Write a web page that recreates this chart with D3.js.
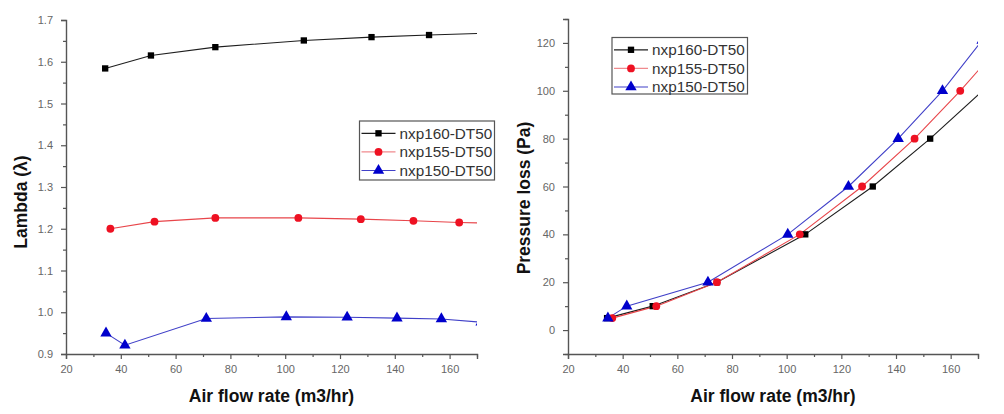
<!DOCTYPE html>
<html><head><meta charset="utf-8">
<script src="https://cdn.jsdelivr.net/npm/d3@7"></script>
<style>
html,body{margin:0;padding:0;background:#fff;}
svg{display:block;}
</style></head>
<body>
<svg id="chart" width="1004" height="414"></svg>
<script>
// ---------- data ----------
const seriesNames = ["nxp160-DT50", "nxp155-DT50", "nxp150-DT50"];
const flow160 = [34.3, 51.0, 74.5, 106.8, 131.5, 152.5, 171.7];
const flow155 = [36.2, 52.3, 74.5, 104.8, 127.6, 146.8, 163.5, 179];
const flow150 = [34.6, 41.5, 71.2, 100.4, 122.6, 140.8, 157.0, 171.5];
const lambda160 = [1.584, 1.615, 1.635, 1.651, 1.659, 1.664, 1.668];
const lambda155 = [1.200, 1.217, 1.226, 1.226, 1.223, 1.219, 1.215, 1.213];
const lambda150 = [0.950, 0.921, 0.985, 0.989, 0.988, 0.986, 0.984, 0.976];
const pressure160 = [5, 10, 20, 40, 60, 80, 100];
const pressure155 = [5, 10, 20, 40, 60, 80, 100, 120];
const pressure150 = [5, 10, 20, 40, 60, 80, 100, 121];
const xTicks = [20, 40, 60, 80, 100, 120, 140, 160];
const xMinorTicks = [30, 50, 70, 90, 110, 130, 150, 170];
const lambdaTicks = [0.9, 1.0, 1.1, 1.2, 1.3, 1.4, 1.5, 1.6, 1.7];
const lambdaMinor = [0.95, 1.05, 1.15, 1.25, 1.35, 1.45, 1.55, 1.65];
const pressureTicks = [0, 20, 40, 60, 80, 100, 120];
const pressureMinor = [-10, 10, 30, 50, 70, 90, 110, 130];

const lineColors = ["#1e1e1e", "#e8454a", "#4040c8"];
const legendLineColors = ["#1e1e1e", "#f08a8e", "#4040c8"];
const markerColors = ["#000000", "#ee1122", "#0000cc"];
const markerShapes = [d3.symbolSquare, d3.symbolCircle, d3.symbolTriangle];
const markerSizes = [40, 48, 56];

const svg = d3.select("#chart");
const axisColor = "#555";
const tickTextColor = "#666";

function drawPanel(cfg) {
  const g = svg.append("g");
  const x = d3.scaleLinear().domain([20, 170]).range([cfg.left, cfg.right]);
  const y = d3.scaleLinear().domain(cfg.yDomain).range([cfg.bottom, cfg.top]);

  const defs = svg.append("defs");
  const clipId = "clip" + cfg.id;
  defs.append("clipPath").attr("id", clipId)
    .append("rect").attr("x", cfg.left).attr("y", cfg.top - 5)
    .attr("width", cfg.right - cfg.left).attr("height", cfg.bottom - cfg.top + 5);

  // axes
  const xAxis = d3.axisBottom(x).tickValues(xTicks).tickSize(5).tickPadding(6).tickFormat(d3.format("d"));
  const xMinor = d3.axisBottom(x).tickValues(xMinorTicks).tickSize(3).tickFormat("");
  const yAxis = d3.axisLeft(y).tickValues(cfg.yTicks).tickSize(5).tickPadding(8).tickFormat(cfg.yFormat);
  const yMinor = d3.axisLeft(y).tickValues(cfg.yMinor).tickSize(3).tickFormat("");

  function styleAxis(sel) {
    sel.select(".domain").attr("stroke", axisColor).attr("stroke-width", 1.4);
    sel.selectAll(".tick line").attr("stroke", axisColor).attr("stroke-width", 1.2);
    sel.selectAll(".tick text").attr("fill", tickTextColor)
      .style("font-family", "'Liberation Sans', Arial, sans-serif").style("font-size", "11px");
  }
  g.append("g").attr("transform", `translate(0,${cfg.bottom})`).call(xMinor).call(styleAxis)
    .select(".domain").remove();
  g.append("g").attr("transform", `translate(${cfg.left},0)`).call(yMinor).call(styleAxis)
    .select(".domain").remove();
  g.append("g").attr("transform", `translate(0,${cfg.bottom})`).call(xAxis).call(styleAxis);
  g.append("g").attr("transform", `translate(${cfg.left},0)`).call(yAxis).call(styleAxis);

  // axis titles
  g.append("text").attr("x", (cfg.left + cfg.right) / 2 + cfg.xTitleDx).attr("y", 402)
    .attr("text-anchor", "middle")
    .style("font-family", "'Liberation Sans', Arial, sans-serif").style("font-weight", "bold")
    .style("font-size", "17.5px").attr("fill", "#111").text("Air flow rate (m3/hr)");
  g.append("text").attr("transform", `translate(${cfg.yTitleX},${cfg.yTitleY}) rotate(-90)`)
    .attr("text-anchor", "middle")
    .style("font-family", "'Liberation Sans', Arial, sans-serif").style("font-weight", "bold")
    .style("font-size", "17.5px").attr("fill", "#111").text(cfg.yTitle);

  // series
  const plot = g.append("g").attr("clip-path", `url(#${clipId})`);
  cfg.series.forEach((s, i) => {
    const pts = s.xs.map((xv, j) => [xv, s.ys[j]]);
    const line = d3.line().x(d => x(d[0])).y(d => y(d[1])).curve(cfg.curve);
    plot.append("path").attr("d", line(pts)).attr("fill", "none")
      .attr("stroke", lineColors[i]).attr("stroke-width", 1.1);
  });
  cfg.series.forEach((s, i) => {
    const pts = s.xs.map((xv, j) => [xv, s.ys[j]]);
    plot.selectAll(null).data(pts).enter().append("path")
      .attr("transform", d => `translate(${x(d[0])},${y(d[1])})`)
      .attr("d", d3.symbol().type(markerShapes[i]).size(markerSizes[i])())
      .attr("fill", markerColors[i]);
  });

  // legend
  const lg = g.append("g");
  lg.append("rect").attr("x", cfg.legend.x).attr("y", cfg.legend.y)
    .attr("width", cfg.legend.w).attr("height", cfg.legend.h)
    .attr("fill", "#fff").attr("stroke", "#555").attr("stroke-width", 1.2);
  seriesNames.forEach((name, i) => {
    const ly = cfg.legend.y + 12.3 + i * 18.6;
    const lx = cfg.legend.x + 2;
    lg.append("line").attr("x1", lx).attr("x2", lx + 34).attr("y1", ly).attr("y2", ly)
      .attr("stroke", legendLineColors[i]).attr("stroke-width", 1.2);
    lg.append("path").attr("transform", `translate(${lx + 17},${ly})`)
      .attr("d", d3.symbol().type(markerShapes[i]).size(markerSizes[i])())
      .attr("fill", markerColors[i]);
    lg.append("text").attr("x", lx + 38).attr("y", ly + 5.3)
      .style("font-family", "'Liberation Sans', Arial, sans-serif").style("font-size", "15.3px")
      .attr("fill", "#333").text(name);
  });
}

drawPanel({
  id: "L", left: 66, right: 477, top: 20, bottom: 354,
  yDomain: [0.9, 1.7], yTicks: lambdaTicks, yMinor: lambdaMinor, yFormat: d3.format(".1f"),
  yTitle: "Lambda (λ)", yTitleX: 27, yTitleY: 202, xTitleDx: 0,
  curve: d3.curveLinear,
  series: [
    { xs: flow160, ys: lambda160 },
    { xs: flow155, ys: lambda155 },
    { xs: flow150, ys: lambda150 }
  ],
  legend: { x: 359.5, y: 121, w: 135, h: 59 }
});

drawPanel({
  id: "R", left: 568, right: 978, top: 19, bottom: 354,
  yDomain: [-10, 130], yTicks: pressureTicks, yMinor: pressureMinor, yFormat: d3.format("d"),
  yTitle: "Pressure loss (Pa)", yTitleX: 530, yTitleY: 198, xTitleDx: 0,
  curve: d3.curveLinear,
  series: [
    { xs: flow160, ys: pressure160 },
    { xs: flow155, ys: pressure155 },
    { xs: flow150, ys: pressure150 }
  ],
  legend: { x: 612, y: 37.5, w: 135.5, h: 56.5 }
});
</script>
</body></html>
